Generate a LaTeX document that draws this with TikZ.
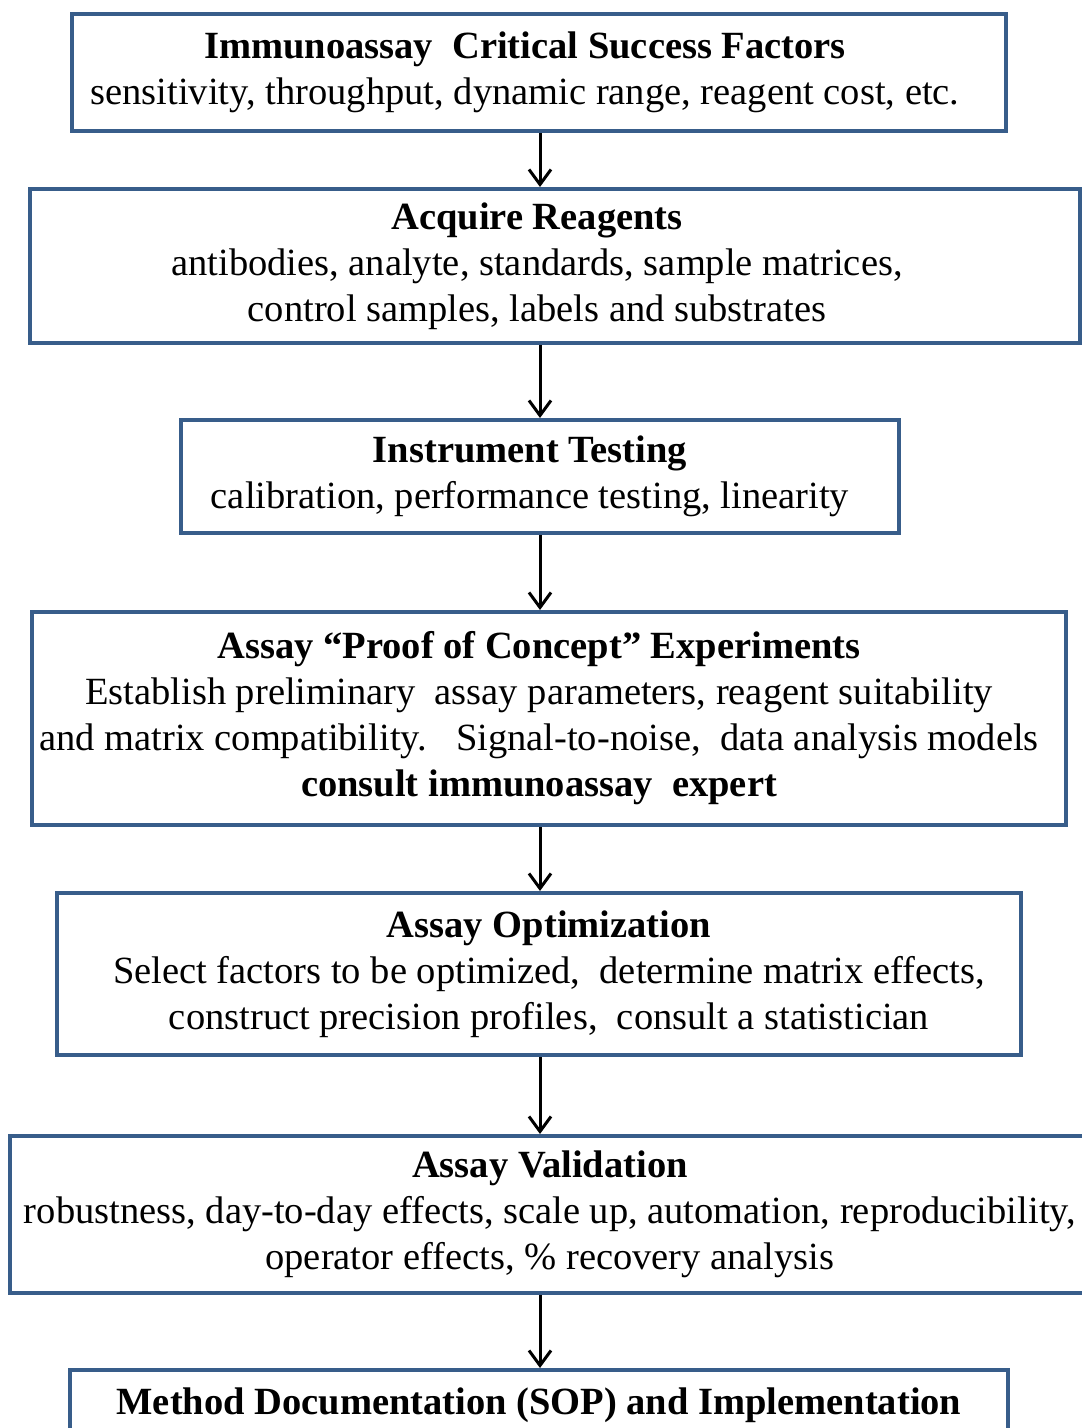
\documentclass[tikz,border=0pt]{standalone}
\usepackage{fontspec}
\setmainfont{Liberation Serif}
\usepackage{tikz}
\usetikzlibrary{arrows.meta, positioning}
\definecolor{stageblue}{RGB}{56,93,138}

\begin{document}
\begin{tikzpicture}[
  x=1pt, y=-1pt,
  stage/.style={draw=stageblue, line width=4pt, fill=white, align=center,
                inner sep=0pt, text width=#1, minimum width=#1,
                font=\fontsize{38.5}{46}\selectfont},
  % moves the lines off the box centre by half the value
  nudge/.style={execute at begin node={\leftskip=#1 plus 1fill
                \rightskip=0pt plus 1fill\parfillskip=0pt
                \spaceskip=0pt\xspaceskip=0pt}},
  arr/.style={-{Straight Barb[length=15pt, width=22pt]}, line width=3pt}
]
\useasboundingbox (0,0) rectangle (1082,1428);
\clip (0,0) rectangle (1082,1428);
\fill[white] (0,0) rectangle (1082,1428);

\node[stage=934pt, nudge=-28pt, minimum height=117pt] (factors) at (539,72.5)
  {\textbf{Immunoassay\ \ Critical Success Factors}\\
   sensitivity, throughput, dynamic range, reagent cost, etc.};
\node[stage=1050pt, nudge=-36pt, minimum height=154pt] (reagents) at (555,266)
  {\textbf{Acquire Reagents}\\
   antibodies, analyte, standards, sample matrices,\\
   control samples, labels and substrates};
\node[stage=718pt, nudge=-20pt, minimum height=113pt] (instrument) at (540,476.5)
  {\textbf{Instrument Testing}\\
   calibration, performance testing, linearity};
\node[stage=1034pt, nudge=-20pt, minimum height=213pt] (concept) at (549,718.5)
  {\textbf{Assay “Proof of Concept” Experiments}\\
   Establish preliminary\ \ assay parameters, reagent suitability\\
   and matrix compatibility.\ \ \ Signal-to-noise,\ \ data analysis models\\
   \textbf{consult immunoassay\ \ expert}};
\node[stage=964pt, nudge=20pt, minimum height=162pt] (optim) at (539,974)
  {\textbf{Assay Optimization}\\
   Select factors to be optimized,\ \ determine matrix effects,\\
   construct precision profiles,\ \ consult a statistician};
\node[stage=1080pt, nudge=0pt, minimum height=157pt] (valid) at (550,1214.5)
  {\textbf{Assay Validation}\\
   robustness, day-to-day effects, scale up, automation, reproducibility,\\
   operator effects, \% recovery analysis};
\node[stage=938pt, nudge=0pt, anchor=north, inner ysep=12pt,
      text height=32pt, text depth=60pt] (method) at (539,1368)
  {\textbf{Method Documentation (SOP) and Implementation}};

\coordinate (axis) at (540,0);
\draw[arr] (axis |- factors.south) -- (axis |- reagents.north);
\draw[arr] (axis |- reagents.south) -- (axis |- instrument.north);
\draw[arr] (axis |- instrument.south) -- (axis |- concept.north);
\draw[arr] (axis |- concept.south) -- (axis |- optim.north);
\draw[arr] (axis |- optim.south) -- (axis |- valid.north);
\draw[arr] (axis |- valid.south) -- (axis |- method.north);
\end{tikzpicture}
\end{document}
